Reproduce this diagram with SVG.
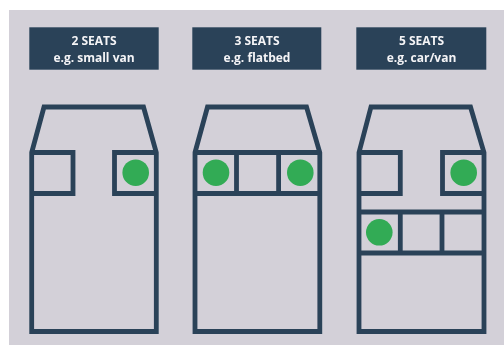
<svg xmlns="http://www.w3.org/2000/svg" width="504" height="345" viewBox="0 0 504 345">
<style>
.h{fill:#2b4259}
.l{fill:none;stroke:#2b4259;stroke-width:4.8;stroke-linejoin:miter}
.s{fill:#32ab55}
text{font-family:"Open Sans","Noto Sans",sans-serif;font-weight:700;fill:#f4f4f6;text-anchor:middle;font-size:12px}
</style>
<defs><filter id="soft" x="0" y="0" width="100%" height="100%" filterUnits="userSpaceOnUse" primitiveUnits="userSpaceOnUse"><feGaussianBlur stdDeviation="0.4"/></filter></defs>
<rect width="504" height="345" fill="#fff"/>
<rect x="9" y="10" width="495" height="335" fill="#d3d0d8"/>
<g filter="url(#soft)">
<g id="header-2-seats"><rect class="h" x="29.3" y="27.3" width="129.4" height="42.4"/><text x="94" y="44.7">2 SEATS</text><text x="94" y="62.3">e.g. small van</text></g>
<g id="header-3-seats"><rect class="h" x="192.3" y="27.3" width="129" height="42.4"/><text x="257" y="44.7">3 SEATS</text><text x="257" y="62.3">e.g. flatbed</text></g>
<g id="header-5-seats"><rect class="h" x="356.3" y="27.3" width="130" height="42.4"/><text x="421.5" y="44.7">5 SEATS</text><text x="421.5" y="62.3">e.g. car/van</text></g>
<g id="van-2-seats">
<path class="l" d="M31.7 152.5L44 107H143.5L156.3 152.5V331.5H31.7Z"/>
<path class="l" d="M31.7 152.5H73V193.5H31.7M156.3 152.5H114.5V193.5H156.3"/>
<circle class="s" cx="135.7" cy="172.7" r="13.3"/>
</g>
<g id="van-3-seats">
<path class="l" d="M195 152.5L207.5 107H306.5L319.8 152.5V331.5H195Z"/>
<path class="l" d="M195 152.5H319.8M195 193.5H319.8M236.5 152.5V193.5M278.6 152.5V193.5"/>
<circle class="s" cx="216" cy="172.7" r="13.3"/>
<circle class="s" cx="300.3" cy="172.7" r="13.3"/>
</g>
<g id="van-5-seats">
<path class="l" d="M359 152.5L371 107H470.5L484 152.5V331.5H359Z"/>
<path class="l" d="M359 152.5H400.3V193.5H359M484 152.5H442.5V193.5H484"/>
<path class="l" d="M359 212H484M359 253H484M400.3 212V253M442 212V253"/>
<circle class="s" cx="463.7" cy="172.7" r="13.3"/>
<circle class="s" cx="379.3" cy="232.3" r="13.3"/>
</g>
</g>
</svg>
